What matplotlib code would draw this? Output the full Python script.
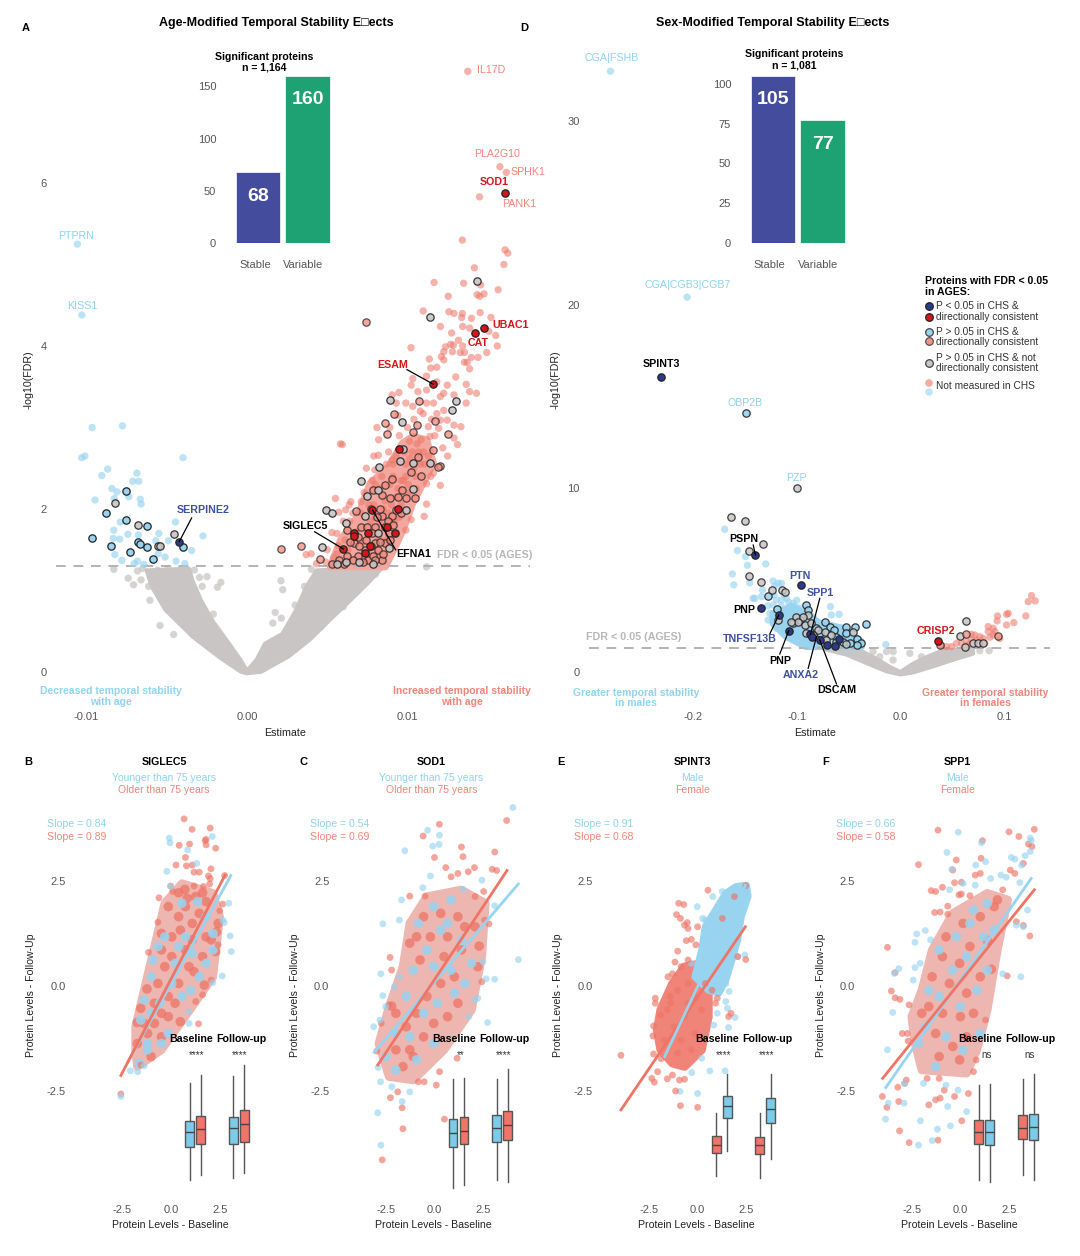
import numpy as np
import matplotlib
matplotlib.use("Agg")
from matplotlib import pyplot as plt
from matplotlib.path import Path

plt.rcParams['font.family'] = ['Liberation Sans', 'DejaVu Sans']

W, H = 1080, 1256
SALMON = '#EE7466'
BLUE = '#98D3F0'
GREY = '#C9C5C5'
NAVY = '#2E3A87'
RED = '#D7141C'
LABEL_BLUE = '#3F51A3'
TXT_BLUE = '#8FD3F0'
TXT_RED = '#F0857A'
TICK = '#555555'
BOX_BLUE = '#7CCBEA'
BOX_RED = '#F07468'

# ---- panel A, estimate in units of 0.001, -log10(FDR)
a_grey_band = [(-.39, .15), (-1.03, .33), (-2.1, .62), (-2.85, .88), (-3.39, 1.13), (-3.6, 1.27), (-6.28, 1.25),
               (-5.96, 1.05), (-5.1, .76), (-3.39, .43), (-1.67, .17), (-.39, 0), (0, -.02), (.9, 0), (2.62, .19),
               (3.9, .39), (5.19, .64), (6.47, .88), (7.55, 1.09), (8.51, 1.29), (4.33, 1.25), (3.69, 1.05),
               (3.04, .76), (2.19, .47), (1.11, .35), (.58, .15), (0, .02)]
a_grey = [(-8.3, 1.26), (-6.82, 1.24), (-6.5, 1.27), (-7.4, 1.15), (-7.07, 1.07), (-6.6, 1.13), (-6.13, 1.05),
          (-6.05, .88), (-5.42, .57), (-4.57, .46), (-2.1, .71), (-2.49, 1.17), (-2.96, 1.16), (-1.63, 1.1),
          (-1.84, 1.04), (-2.79, 1.05), (-3.28, 1.25), (-3.64, 1.05), (-5.57, 1.25), (-4.89, 1.27), (-4.24, 1.25),
          (-3.82, 1.27), (2.12, 1.12), (2.23, 1.01), (1.76, .73), (1.61, .6), (2.14, .66), (3, .82), (3.58, 1.05),
          (4.01, 1.26), (4.29, 1.15), (11.19, 1.29), (-3.4, .55), (-2.5, .42), (-1.2, .25), (-4.3, .85), (-5.0, 1.1),
          (2.9, .4), (4.6, .55), (6.0, .8), (7.2, 1.1), (8.0, 1.2), (3.5, .7)]
a_blue = [(-10.57, 5.25), (-10.29, 4.38), (-9.65, 3.0), (-7.76, 3.02), (-10.3, 2.63), (-10.1, 2.65), (-3.99, 2.63),
          (-8.68, 2.49), (-9.05, 2.41), (-6.86, 2.44), (-7.12, 2.34), (-6.75, 2.34), (-8.42, 2.25), (-8.1, 2.21),
          (-8.27, 2.13), (-7.37, 2.15), (-9.47, 2.11), (-6.65, 2.12), (-6.6, 2.06), (-7.89, 1.84), (-8.3, 1.74),
          (-4.46, 1.84), (-7.42, 1.69), (-6.77, 1.68), (-8.34, 1.64), (-7.93, 1.63), (-5.49, 1.7), (-4.89, 1.61),
          (-5.68, 1.61), (-2.74, 1.67), (-3.45, 1.49), (-8.23, 1.44), (-7.8, 1.37), (-5.53, 1.45), (-5.1, 1.41),
          (-4.42, 1.36), (-3.88, 1.33), (-6.82, 1.36), (-7.03, 1.33), (-6.43, 1.32)]
a_blue_edge = [(-7.52, 2.22), (-8.81, 1.95), (-7.52, 1.86), (-6.2, 1.79), (-9.65, 1.64), (-8.49, 1.54), (-6.77, 1.6),
               (-6.65, 1.57), (-6.26, 1.53), (-7.29, 1.47), (-5.83, 1.39), (-3.99, 1.53)]
a_red_core = [(5.19, 1.29), (5.83, 1.62), (6.9, 1.91), (7.65, 2.31), (8.83, 2.52), (9.69, 2.81), (10.33, 2.89),
              (11.19, 2.85), (11.62, 2.56), (10.33, 2.07), (9.8, 1.78), (9.26, 1.54), (8.62, 1.29)]
a_red = [(13.76, 7.37), (15.76, 6.2), (16.16, 6.13), (14.49, 5.83), (13.42, 5.3), (16.08, 5.18), (16.25, 5.14),
         (16.01, 5.0), (14.17, 4.96), (11.66, 4.78), (13.5, 4.77), (14.56, 4.75), (12.54, 4.61), (14.34, 4.63),
         (14.51, 4.61), (14.77, 4.64), (15.65, 4.69), (10.98, 4.43), (12.58, 4.42), (12.9, 4.4), (13.42, 4.4),
         (13.38, 4.35), (13.99, 4.34), (14.53, 4.41), (15.2, 4.35), (12.05, 4.24), (13.44, 4.24), (13.87, 4.22),
         (15.07, 4.18), (15.5, 4.13), (12.75, 4.16), (13.18, 4.07), (12.69, 4.02), (12.86, 4.01), (13.44, 4.0),
         (12.37, 3.99), (15.6, 4.0), (10.22, 3.98), (12.26, 3.93), (12.8, 3.93), (13.29, 3.92), (13.55, 3.92),
         (14.94, 3.92), (11.36, 3.84), (12.11, 3.87), (12.26, 3.83), (13.98, 3.86), (14.4, 3.86), (13.55, 3.8),
         (13.72, 3.8), (11.45, 3.73), (11.83, 3.74), (13.87, 3.72), (9.05, 3.4), (9.47, 3.43), (10.33, 3.6),
         (11.19, 3.63), (11.83, 3.56), (10.23, 3.52), (12.48, 3.52), (13.01, 3.62), (12.26, 3.42), (12.9, 3.4),
         (13.66, 3.53), (13.87, 3.44), (14.3, 3.42), (10.65, 3.44), (11.19, 3.46), (12.05, 3.38), (11.19, 3.3),
         (11.62, 3.3), (10.33, 3.26), (10.98, 3.17), (12.26, 3.21), (13.66, 3.3), (11.83, 3.17), (11.3, 3.01),
         (12.05, 3.09), (12.48, 3.09), (12.9, 3.03), (13.33, 3.01), (11.94, 2.99), (12.9, 2.87), (13.12, 2.79),
         (11.4, 2.89), (10.12, 2.83), (8.83, 2.7), (8.19, 2.66), (9.05, 2.6), (11.62, 2.44), (11.19, 2.31),
         (12.05, 2.29), (11.19, 2.06), (11.04, 1.91), (10.23, 1.87), (9.9, 1.74), (7.97, 2.48), (7.44, 2.5),
         (6.47, 2.09), (5.51, 2.13), (6.37, 2.05), (5.83, 2.8), (5.94, 2.79), (3.69, 1.44), (4.33, 1.33),
         (5.29, 1.71), (5.72, 1.96), (6.15, 1.99), (7.12, 2.09), (10.3, 2.7), (10.6, 2.8), (11.0, 2.7), (10.8, 2.55),
         (9.1, 2.4), (9.4, 2.25), (8.9, 2.3), (9.6, 2.35), (8.3, 2.25), (8.6, 2.1), (6.6, 1.7), (7.2, 1.6), (8.0, 1.9),
         (8.8, 1.95), (7.6, 1.45), (8.2, 1.65), (6.3, 1.5), (5.6, 1.45), (9.9, 2.4), (10.1, 2.2), (10.5, 2.4),
         (5.4, 1.4), (5.7, 1.55), (6.1, 1.62), (6.4, 1.85), (6.8, 1.72), (7.1, 1.95), (7.4, 1.45), (7.7, 1.85), (7.9, 2.05),
         (8.1, 1.45), (8.3, 1.82), (8.5, 2.0), (8.7, 1.62), (8.9, 1.85), (9.0, 2.05), (9.2, 1.85), (9.3, 2.15), (9.5, 1.9),
         (9.6, 2.05), (9.75, 2.35), (9.9, 2.55), (10.05, 2.3), (10.15, 2.62), (10.4, 2.5), (10.55, 2.25), (10.7, 2.7),
         (10.85, 2.85), (11.05, 2.55), (11.3, 2.65), (11.45, 2.4), (7.3, 2.2), (7.6, 2.05), (7.8, 2.35), (8.0, 2.3),
         (8.4, 2.4), (8.7, 2.55), (9.1, 2.55), (9.3, 2.65), (9.5, 2.9), (9.8, 2.7), (10.0, 3.0), (10.4, 3.1), (10.8, 3.2),
         (11.5, 3.1), (11.7, 2.9), (12.2, 2.75), (12.5, 2.65), (8.2, 2.85), (8.9, 3.0), (9.4, 3.15), (6.0, 1.85),
         (6.6, 1.95), (5.0, 1.5), (4.9, 1.35), (4.0, 1.45), (5.6, 1.7), (8.1, 3.0), (7.9, 2.65), (9.3, 3.3), (9.9, 3.3)]
a_red_edge = [(7.4, 4.29), (10.72, 3.33), (9.17, 3.17), (8.57, 3.05), (8.75, 2.92), (10.33, 2.94), (10.57, 3.03),
              (11.7, 3.08), (12.54, 2.92), (11.58, 2.73), (10.65, 2.64), (12.05, 2.53), (11.9, 2.52), (10.87, 2.41),
              (10.23, 2.46), (9.05, 2.37), (7.87, 2.23), (8.4, 2.17), (8.94, 2.13), (9.69, 2.23), (10.44, 2.13),
              (9.9, 2.13), (6.8, 1.98), (6.26, 1.74), (6.9, 1.66), (7.44, 1.62), (7.97, 1.58), (8.62, 1.58), (8.19, 1.5),
              (7.33, 1.5), (6.9, 1.42), (6.26, 1.42), (5.72, 1.37), (6.05, 1.33), (7.55, 1.37), (8.4, 1.37), (7.87, 1.42),
              (8.83, 1.7), (9.05, 1.91), (8.4, 1.91), (7.97, 1.78), (7.12, 1.78), (8.62, 1.78), (9.26, 1.99), (6.69, 1.58),
              (7.76, 1.7), (5.29, 1.33), (4.54, 1.39), (2.12, 1.51), (3.37, 1.54), (6.4, 1.6), (7.0, 1.55), (7.7, 1.55),
              (8.0, 1.38), (8.3, 1.6), (8.9, 1.62), (8.5, 1.45), (7.2, 1.35), (6.6, 1.38), (8.8, 1.85), (8.3, 2.0), (7.7, 2.0),
              (9.1, 1.8), (9.6, 1.95), (9.4, 2.15), (8.6, 2.3), (8.1, 1.9), (7.5, 1.78)]
a_grey_edge = [(-8.23, 2.07), (-6.82, 1.8), (-4.52, 1.69), (-5.53, 1.55), (-5.42, 1.55), (14.34, 4.8), (11.38, 4.36),
               (8.94, 3.34), (9.69, 3.07), (13.01, 3.33), (12.75, 3.22), (9.73, 2.74), (9.54, 2.59), (8.23, 2.51),
               (10.33, 2.56), (11.4, 2.56), (7.12, 2.34), (8.19, 2.23), (7.48, 2.16), (10.33, 2.25), (4.93, 1.99),
               (5.32, 1.95), (6.15, 1.83), (4.69, 1.53), (6.15, 1.35), (5.62, 1.33), (7.87, 1.33), (7.01, 1.35),
               (8.19, 1.7), (9.9, 1.99), (8.83, 1.52), (7.33, 1.91)]
a_navy = [(-4.22, 1.6)]
a_sig_red = [(16.06, 5.88), (14.79, 4.22), (14.19, 4.16), (11.62, 3.53), (9.47, 2.74), (7.82, 1.99), (9.41, 2.0),
             (6.69, 1.7), (6.67, 1.67), (7.55, 1.7), (8.7, 1.78), (9.22, 1.7), (7.65, 1.55), (7.33, 1.46), (6.0, 1.51)]

# ---- panel D, estimate in units of 0.001, -log10(FDR)
d_grey_band = [(-74.6, 1.29), (-55.3, 1.29), (-39.2, 1.2), (-23.2, .74), (-10.3, .29), (0, .02), (12.2, .47),
               (25.1, .83), (41.2, 1.2), (70.1, 1.29), (70.1, .98), (50.8, .65), (31.5, .29), (12.2, -.04), (0, -.15),
               (-13.5, .02), (-32.8, .47), (-52.1, .93), (-71.4, 1.2)]
d_grey = [(-7.1, .65), (-13.5, 1.11), (-7.1, 1.11), (9, 1.02), (-19.9, .83), (-26.4, 1.11), (20.3, .83), (76.5, 1.16),
          (85.5, 1.16)]
d_blue_core = [(-122.8, 3.19), (-103.5, 3.56), (-77.8, 2.65), (-55.3, 2.38), (-37.6, 1.65), (-37.6, 1.38),
               (-90.7, 1.38), (-110, 1.92), (-122.8, 2.65)]
d_blue = [(-279.6, 32.7), (-205.7, 20.4), (-169.5, 7.77), (-157.2, 6.61), (-149.5, 6.28), (-147.6, 5.81), (-129.9, 5.88),
          (-162.1, 5.34), (-145.3, 4.86), (-160.8, 4.74), (-122.8, 4.95), (-118, 4.83), (-114.8, 4.83), (-121.2, 4.68),
          (-133.1, 4.46), (-142.1, 4.01), (-140.5, 4.01), (-134.1, 4.1), (-119.6, 3.92), (-114.8, 3.92), (-110, 4.01),
          (-122.8, 3.65), (-106.8, 3.56), (-103.5, 3.74), (-97.1, 3.19), (-105.1, 3.19), (-127.7, 2.83), (-67.5, 3.56),
          (-59.2, 3.14), (-66.6, 3.1), (-101.9, 2.83), (-14.1, 1.49), (-122.8, 2.65), (-119.6, 2.38), (-114.8, 2.2),
          (-103.5, 2.2), (-97.1, 1.74), (-90.7, 1.47), (-84.2, 1.56), (-118, 3.0), (-112, 3.3), (-108, 2.9), (-100, 3.3),
          (-95, 2.6), (-88, 2.9), (-84, 3.0), (-80, 2.5), (-76, 2.2), (-72, 2.5), (-68, 2.0), (-64, 1.8), (-60, 2.2),
          (-56, 1.9), (-50, 1.8), (-46, 1.5), (-112, 2.5), (-106, 2.4), (-100, 2.1), (-94, 2.0), (-88, 1.7), (-82, 1.9),
          (-76, 1.6), (-70, 1.9), (-115, 3.6), (-108, 3.8), (-98, 3.5), (-92, 3.0), (-85, 2.4), (-110, 2.0), (-104, 1.8),
          (-126, 3.2), (-128, 3.6), (-122, 4.2), (-112, 4.2), (-100, 3.9)]
d_blue_edge = [(-149, 14.1), (-32.8, 2.6), (-44.1, 2.47), (-42.4, 1.78), (-37.6, 1.6), (-52.1, 2.47), (-52.1, 2.1),
               (-119, 3.41), (-127.7, 4.14), (-90.7, 3.65), (-89, 3.38), (-73, 2.74), (-68.2, 2.47), (-64.3, 2.29),
               (-61.7, 1.92), (-97.1, 2.83), (-103.5, 2.65), (-77.8, 2.1), (-81, 2.38), (-55.3, 1.65), (-42.4, 1.47),
               (-48.9, 1.56)]
d_grey_edge = [(-99.8, 10.0), (-163.7, 8.42), (-150.2, 8.22), (-132.5, 6.99), (-146.3, 6.61), (-145.7, 5.25),
               (-134.7, 4.92), (-123.5, 4.45), (-113.8, 4.45), (-111.6, 4.37), (-118, 2.83), (-89, 3.1), (-100.3, 3.01),
               (-93.9, 3.01), (-98.7, 2.74), (-105.1, 2.74), (-92.3, 2.56), (-85.9, 2.65), (-79.4, 2.29), (-73, 2.2),
               (-66.6, 2.01), (-71.4, 1.74), (-61.7, 1.65), (-52.1, 1.52), (-45.7, 2.2), (-84.2, 2.01), (-90.7, 2.1),
               (63, 2.76), (57.2, 1.98), (62.4, 1.38), (70.1, 1.6), (74.9, 1.6), (79.7, 1.6)]
d_red = [(126.4, 4.16), (129.9, 3.87), (123.2, 3.83), (120.9, 3.05), (103.9, 3.19), (102.3, 3.14), (93.6, 3.05),
         (93.2, 2.78), (109.3, 2.69), (102.3, 2.56), (84.6, 2.47), (89.4, 2.38), (84.6, 2.2), (91, 2.2), (89.4, 2.01),
         (95.8, 1.83), (68.5, 2.05), (71.7, 2.01), (76.5, 1.92), (79.7, 1.83), (73.3, 1.74), (68.5, 1.74), (63.7, 1.65),
         (65.3, 1.47), (54, 1.56), (58.8, 1.56), (49.2, 1.38), (44.4, 1.38), (81.4, 1.56), (86.2, 1.89), (39.5, 1.47)]
d_red_edge = [(63, 2.09), (93.9, 1.96), (37.9, 1.47)]
d_navy = [(-231, 16.06), (-139.9, 6.37), (-95.8, 4.74), (-134.7, 3.48), (-117.4, 3.1), (-107.7, 2.25), (-86.8, 2.05),
          (-85.2, 1.92), (-77.8, 1.74), (-70.4, 1.47), (-63.3, 1.43), (-59.2, 1.78)]
d_sig_red = [(36.3, 1.69)]

# ---- counts
bar_groups = ['Stable', 'Variable']
a_counts = [68, 160]
d_counts = [105, 77]

# ---- panel B
b_core = [(-1.73, -1.92), (-.49, -1.52), (1.09, -.49), (2.15, .22), (2.5, 1.65), (2.15, 2.21), (.56, 2.44),
          (-.32, 1.97), (-.85, .94), (-1.38, -.1), (-1.82, -.97), (-1.82, -1.52)]
b_red = [(.67, 3.98), (1.08, 3.73), (2.01, 3.76), (1.8, 3.49), (1.75, 3.46), (1.8, 3.36), (.42, 3.35), (.95, 3.38),
         (2.29, 3.28), (.74, 3.06), (.26, 2.88), (.79, 2.86), (1.09, 2.88), (2.05, 2.79), (1.18, 2.71), (1.45, 2.71),
         (1.92, 2.62), (2.01, 2.56), (2.75, 2.63), (-.02, 2.38), (.71, 2.3), (1.18, 2.38), (1.66, 2.37), (1.98, 2.43),
         (1.62, 2.22), (.09, 2.25), (.39, 2.22), (-.62, 2.1), (-.14, 1.89), (.83, 2.09), (1.27, 2.13), (1.8, 2.01),
         (2.65, 1.95), (2.5, 1.79), (-.67, 1.52), (-.49, 1.25), (-1.15, .8), (2.42, 1.49), (2.33, 1.29), (2.06, 1.1),
         (2.42, .98), (2.29, .82), (2.06, .14), (1.71, .02), (1.62, -.21), (1.27, -.37), (1.41, -.9), (.48, -.85),
         (-1.23, -.07), (-1.55, -.53), (-1.73, -.87), (-1.73, -1.37), (-1.55, -1.88), (-1.02, -1.68), (-2.57, -2.57),
         (.74, 1.89), (.39, 1.65), (1.09, 1.49), (1.45, 1.73), (1.09, 1.1), (.74, .86), (.04, .7), (-.32, .46),
         (1.18, .34), (.39, .06), (-.14, -.25), (-.49, -.65), (-.85, -.89), (-.14, -.73), (-1.2, -1.13), (.21, -.41),
         (.92, .46), (1.62, .7), (1.8, 1.17), (-.49, .86), (.04, 1.17), (.48, 1.33), (-.85, -.41), (-1.38, -.89),
         (-.49, -1.21), (-.67, .06)]
b_blue = [(-.09, 3.52), (-.05, 3.41), (.85, 3.24), (2.12, 3.56), (1.32, 2.92), (-.21, 2.73), (-.02, 2.37), (2.96, 1.97),
          (2.65, 1.57), (2.73, 1.51), (3.03, 1.19), (3.09, .82), (2.63, .24), (2.15, .08), (.92, -.89), (.92, -.61),
          (-2.57, -2.63), (-2.08, -2.02), (-1.71, -2.04), (-1.38, -1.9), (-1.64, -1.84), (.56, 1.97), (1.36, 2.01),
          (1.8, 1.65), (2.15, 1.25), (2.15, .86), (1.8, .54), (1.45, .22), (1.0, -.1), (.21, .54), (-.32, 1.17),
          (-.67, .94), (-.93, .62), (-1.02, .22), (-1.38, -.33), (-1.55, -.81), (-1.02, -.65), (-.14, -1.13),
          (-.49, -1.37), (-1.2, -1.52), (.74, 1.17), (1.09, .78), (.39, .94), (.04, .06), (.56, -.25), (-.58, -.41),
          (-1.2, -1.37)]
b_red_line = [(-2.57, -2.13), (2.77, 2.64)]
b_blue_line = [(-2.2, -1.8), (3.07, 2.63)]

# ---- panel C
c_core = [(-2.33, -2.16), (-1.09, -2.24), (.49, -1.52), (1.9, -.57), (2.43, .7), (2.61, 1.97), (1.38, 2.29),
          (-.39, 2.13), (-1.27, 1.49), (-1.62, .46), (-2.33, -.49), (-2.86, -1.37)]
c_red = [(.25, 3.85), (-.58, 3.57), (3.7, 3.94), (1.38, 3.31), (3.09, 3.19), (1.46, 3.08), (0, 3.06), (.58, 2.82),
         (2.05, 2.82), (2.96, 2.78), (3.19, 2.75), (1.2, 2.68), (1.73, 2.72), (.85, 2.6), (-1.27, 2.14), (-.48, 2.14),
         (-2.28, .68), (-2.2, .38), (-2.33, -.45), (-2.2, -.48), (-2.73, -.89), (-2.95, -1.55), (-2.26, -2.66),
         (-1.89, -2.52), (-1.66, -2.9), (-1.62, -3.4), (-2.68, -4.14), (.51, -3.17), (1.16, -1.72), (.26, -2.04),
         (.09, -2.36), (-.53, -2.28), (-.83, -2.28), (2.43, .1), (2.22, .46), (2.79, 1.48), (2.57, 1.57), (2.29, .95),
         (2.08, 2.13), (2.52, 2.25), (1.2, 1.65), (.32, 1.73), (-.56, 1.65), (-.92, 1.17), (-.21, 1.17), (.67, 1.17),
         (1.55, 1.41), (2.08, 1.41), (1.38, .86), (.49, .7), (-.74, .62), (-1.27, 1.02), (1.02, .22), (.32, .06),
         (-.39, -.25), (-.92, -.65), (-1.45, -.97), (-1.98, -.65), (-.56, -1.21), (-1.27, -1.52), (-.04, -.89),
         (1.2, -.41), (.67, -.73), (-1.62, -1.92), (-1.09, -1.68), (-1.98, -1.52)]
c_blue = [(4.02, 4.25), (-.35, 3.71), (-1.52, 3.22), (.25, 3.59), (-.09, 3.33), (.23, 3.37), (-.21, 2.62), (-1.69, 2.05),
          (-2.65, 1.48), (-1.8, 1.57), (-.6, 2.34), (-2.75, .29), (-2.65, -.23), (-2.06, -.02), (-2.5, -.49),
          (-3.12, -.97), (-2.8, -.81), (-2.89, -1.94), (-2.77, -2.28), (-2.91, -3.02), (-2.75, -3.79), (-1.66, -2.75),
          (-1.27, -2.52), (-2.19, -2.4), (4.3, .63), (3.09, .16), (2.65, .17), (2.72, -.87), (2.43, 2.52), (3.09, 1.91),
          (2.49, .58), (2.08, -.33), (2.22, -.29), (1.76, -.73), (1.46, 2.3), (.85, 2.05), (-.04, 1.89), (-.83, 1.49),
          (-.39, .86), (-1.09, .38), (-1.8, .22), (.32, 1.33), (1.38, 1.09), (1.9, .54), (.85, .38), (-.04, .46),
          (-1.45, -.25), (-.56, -.65), (.14, -.41), (1.02, -.17), (-1.27, -1.21), (-1.98, -1.13), (-.92, -1.76),
          (-1.98, -2), (-2.5, -1.68), (-.04, -1.37), (1.55, .06), (.67, 1.49)]
c_red_line = [(-2.91, -1.88), (3.72, 2.75)]
c_blue_line = [(-3.09, -1.58), (4.3, 2.43)]

# ---- panel E
e_red_core = [(-1.9, -.57), (-1.29, .06), (-.67, .46), (.21, .54), (.56, -.1), (.56, -.73), (.21, -1.52), (-.67, -1.92),
              (-1.29, -1.84), (-1.9, -1.52), (-2.08, -1.05)]
e_blue_core = [(-.14, .22), (.21, .86), (.39, 1.41), (.92, 1.81), (1.45, 2.21), (1.98, 2.37), (2.5, 2.4), (2.59, 2.13),
               (2.24, 1.65), (2.06, 1.1), (1.71, .54), (1.45, .14), (1.09, -.17), (.56, -.1)]
e_red = [(-3.93, -1.65), (2.47, 2.39), (.53, 2.28), (-.97, 1.97), (-.71, 1.94), (-1.08, 1.7), (-.88, 1.61), (-.53, 1.51),
         (-.67, 1.45), (-.49, 1.37), (0, 1.41), (-1.02, .83), (-.58, 1.08), (-.32, 1.11), (-.09, .98), (-1.16, .57),
         (-.49, .62), (-1.29, .29), (-1.52, .22), (-.85, .46), (-2.17, -.29), (-2.17, -.41), (-1.41, -.25), (-1.9, -.69),
         (-2.26, -.95), (-2.29, -1.19), (-2.26, -1.62), (-1.87, -1.73), (-2.05, -2.04), (-2.35, -2.2), (-2.22, -2.29),
         (-1.55, -2.21), (-.93, -2.24), (-.67, -2.22), (-1.13, -2.5), (-.88, -2.85), (0, -2.89), (-1.29, -2.12),
         (1.71, -.65), (1.59, -.73), (2.06, .7), (2.47, .63), (1.89, 2.13), (1.27, 1.61), (1.01, -.29), (.74, -.1),
         (.92, -.41), (-1.55, -.57), (-1.02, -.1), (-.49, .06), (-.14, -.25), (.21, -.57), (-.67, -.73), (-1.2, -.97),
         (-1.73, -1.29), (-.85, -1.29), (-.14, -1.13), (-.32, -1.52), (-1.02, -1.6), (.39, .06), (-1.38, -.41),
         (-.49, -.41)]
e_blue = [(-.02, 1.89), (.78, 2.13), (1.27, 2.25), (1.66, 2.21), (.39, 1.57), (.56, 1.53), (.26, 1.61), (2.42, .74),
          (2.06, .7), (1.45, .06), (1.62, -.13), (1.45, -.37), (1.01, -.65), (1.53, -.53), (1.92, -.75), (.83, -.93),
          (1.59, -.99), (.21, -1.72), (.63, -2.02), (1.41, -2.02), (-.3, -2.06), (-.9, -2.51), (0, -2.56), (1.27, .54),
          (1.53, .78), (.74, .22), (.21, .54), (-.32, .54), (1.09, .06), (.83, 1.02), (1.09, 1.33), (1.53, 1.65),
          (1.98, 1.97), (2.33, 2.21), (1.53, 1.17), (1.09, .7), (.74, .54), (1.8, 1.81), (2.15, 2.09)]
e_red_line = [(-3.93, -2.95), (2.45, 1.41)]
e_blue_line = [(-1.69, -1.68), (2.45, 2.4)]

# ---- panel F
f_core = [(-1.98, -2), (.32, -2.08), (.85, -1.52), (1.38, -.57), (1.9, .86), (2.43, 2.05), (1.38, 2.21),
          (-.39, 1.73), (-1.45, .86), (-1.98, -.1), (-2.5, -.73), (-2.33, -1.37)]
f_red = [(-1.15, 3.71), (2.49, 3.67), (3, 3.56), (3.79, 3.73), (1.13, 3.46), (3.49, 3.38), (3.67, 3.32), (-.21, 3),
         (1.06, 3.04), (-2.15, 2.89), (-.39, 2.76), (.76, 2.64), (1.02, 2.68), (2.56, 2.76), (2.79, 2.68), (3.23, 2.92),
         (-.3, 2.46), (.05, 2.47), (-.92, 2.35), (-1.5, 2.27), (-1.27, 2.25), (-.07, 2.17), (.05, 2.19), (-.65, 1.9),
         (.49, 2.15), (-1.32, 1.75), (-1.04, 1.76), (-.65, 1.71), (3.23, 1.44), (3.56, 1.19), (2.87, 1.53), (-3.74, .92),
         (-3.35, .32), (-3.54, -.12), (-3.35, -.28), (-3.1, -.32), (-2.63, -.45), (-2.98, -1.13), (-2.72, -1.13),
         (-2.68, -1.31), (2.4, .24), (1.59, .4), (1.29, -.81), (-2.77, -2.24), (-2.86, -2.32), (-3.21, -2.41), (-4, -2.63),
         (-3.77, -2.89), (-3.16, -2.75), (-3.12, -3.45), (-2.63, -3.73), (-1.15, -3.67), (-1.62, -2.83), (-1.27, -2.71),
         (-1.04, -2.67), (-.3, -2.63), (.41, -2.56), (.07, -3.21), (-.83, -2.48), (-1.09, -2.2), (-1.71, -2.2),
         (.67, -2.04), (.81, -1.76), (1.73, 1.89), (1.02, 1.65), (.14, 1.49), (-.74, 1.17), (.49, .94), (1.38, 1.09),
         (-.04, .54), (-.92, .7), (-1.45, .22), (-.56, .06), (1.02, .22), (.32, -.17), (-1.62, -.49), (-1.98, -.65),
         (-.92, -.65), (0, -.73), (.67, -.65), (-1.27, -1.13), (-.39, -1.44), (.32, -1.21), (-1.09, -1.68), (-.04, -1.76),
         (1.9, 2.05), (2.17, 2.29)]
f_blue = [(-.11, 3.66), (3.58, 3.52), (3.63, 3.46), (1.08, 3.41), (-.69, 3.18), (2.61, 3.06), (2.79, 3.02), (3.32, 3.1),
          (3.58, 3.2), (3.14, 2.88), (.79, 2.88), (1.29, 2.96), (-.44, 2.78), (2.08, 2.64), (2.35, 2.59), (3.05, 2.46),
          (1.55, 2.56), (-.56, 2.29), (.14, 2.44), (.76, 2.4), (3.44, 1.81), (2.87, 1.45), (3.23, 1.41), (-2.24, 1.24),
          (-2.33, 1.04), (-1.8, 1.32), (-1.53, 1.1), (-3.16, .41), (-3.39, .3), (-2.33, .44), (-2.06, .54), (3.1, .22),
          (2.17, .29), (-3.47, -.63), (-3.74, -1.52), (-2.42, .14), (-3.84, -3.17), (-3.7, -2.79), (-2.89, -2.79),
          (-2.15, -3.79), (-1.45, -3.68), (-2.05, -3.21), (-1.18, -3.41), (-.51, -3.33), (-.65, -2.87), (.32, -2.99),
          (-.12, -2.48), (-.74, -2.36), (-1.89, -2.32), (-2.86, -2.32), (1.38, 1.97), (.67, 1.81), (-.21, 1.17), (-1.09, .86),
          (1.19, 1.17), (1.73, 1.33), (.32, .7), (-.39, .38), (-1.62, -.1), (-1.09, -.25), (.85, -.1), (0, -.49),
          (-1.8, -.97), (-2.15, -1.37), (-.74, -1.21), (.14, -1.52), (-1.27, -1.92), (1.02, -1.13), (1.38, .38), (.49, 1.49)]
f_red_line = [(-3.99, -2.2), (3.79, 2.29)]
f_blue_line = [(-3.83, -2.42), (3.63, 2.56)]

# ---- inset boxplots: low whisker, q1, median, q3, high whisker
b_boxes = [(-2.55, -.96, -.27, .27, 2.05), (-2.28, -.85, -.14, .49, 2.44), (-2.41, -.85, -.08, .47, 2.39), (-2.19, -.71, .11, .77, 2.9)]
c_boxes = [(-2.91, -.98, -.31, .35, 2.24), (-2.76, -.85, -.22, .43, 2.28), (-2.52, -.71, -.05, .52, 2.24), (-2.63, -.63, .05, .72, 2.71)]
e_boxes = [(-2.36, -1.24, -.87, -.47, .66), (-1.18, .38, .96, 1.42, 2.49), (-2.43, -1.29, -.88, -.49, .66), (-1.54, .16, .82, 1.34, 2.49)]
f_boxes = [(-2.52, -.83, -.25, .3, 1.97), (-2.6, -.87, -.28, .3, 2.02), (-2.3, -.6, -.06, .55, 2.25), (-2.55, -.66, -.03, .61, 2.49)]


def px_axes(left, top, right, bottom):
    ax = fig.add_axes([left / W, 1 - bottom / H, (right - left) / W, (bottom - top) / H])
    ax.patch.set_alpha(0)
    for s in ax.spines.values():
        s.set_visible(False)
    ax.tick_params(length=0, labelcolor=TICK, labelsize=8)
    return ax


def xy(points):
    return np.array(points)[:, 0], np.array(points)[:, 1]


def dots(ax, points, color, size=28, alpha=.6, edge='none', z=2):
    if len(points) == 0:
        return
    x, y = xy(points)
    ax.scatter(x, y, s=size, c=color, alpha=alpha, edgecolors=edge, linewidths=.9, zorder=z)


def inside(points, core):
    return [p for p in points if Path(core).contains_point(p)]


def outside(points, core):
    return [p for p in points if not Path(core).contains_point(p)]


def note(ax, x, y, s, color='black', bold=True, ha='center', size=7.7):
    ax.text(x, y, s, color=color, fontweight='bold' if bold else 'normal', ha=ha, va='center', fontsize=size, zorder=8)


def link(ax, x0, y0, x1, y1):
    ax.plot([x0, x1], [y0, y1], color='black', lw=.9, zorder=7)


def count_bars(left, counts, scale, title_x, title_y, ticks, label_x, total):
    ax = px_axes(left, 70, left + 105, 243)
    ax.bar([0, 1], counts, width=.9, color=['#444C9E', '#1EA274'], edgecolor='white', linewidth=.5)
    ax.set_xlim(-.563, 1.548)
    ax.set_ylim(0, 173 / scale)
    ax.set_yticks(ticks)
    ax.set_xticks(label_x)
    ax.set_xticklabels(bar_groups)
    ax.tick_params(axis='y', pad=10)
    ax.tick_params(axis='x', pad=12)
    for i, n in enumerate(counts):
        ax.text(i, n - 24 / scale, str(n), color='white', fontweight='bold', fontsize=14, ha='center', va='center')
    page.text(title_x, title_y, 'Significant proteins', fontweight='bold', fontsize=7.6, ha='center', va='center')
    page.text(title_x, title_y + 11, 'n = ' + format(total, ','), fontweight='bold', fontsize=7.6, ha='center', va='center')


def slope_panel(x0, red, blue, red_line, blue_line, boxes, box_colors, name, sub, slopes, marks, title_dx,
                core=None, red_core=None, blue_core=None):
    ax = px_axes(x0 - 101, 800, x0 + 99, 1198)
    ax.set_xlim(-101 / 19.5, 99 / 19.5)
    ax.set_ylim(-212 / 42, 186 / 42)
    ax.set_xticks([-2.5, 0, 2.5])
    ax.set_yticks([-2.5, 0, 2.5])
    ax.set_xticklabels(['-2.5', '0.0', '2.5'])
    ax.set_yticklabels(['-2.5', '0.0', '2.5'])
    ax.tick_params(axis='x', pad=5)
    ax.tick_params(axis='y', pad=3)
    if core is not None:
        # dense middle of the cloud, the single points cannot all be read
        ax.fill(*xy(core), facecolor='#EDB6B0', edgecolor='#EDB6B0', lw=6, joinstyle='round', zorder=1)
        dots(ax, inside(red, core), SALMON, size=48, alpha=.75, z=1.3)
        dots(ax, inside(blue, core), BLUE, size=48, alpha=.85, z=1.5)
        dots(ax, outside(red, core), SALMON, size=24, alpha=.65, z=2)
        dots(ax, outside(blue, core), BLUE, size=24, alpha=.65, z=3)
        ax.plot(*xy(blue_line), color=BLUE, lw=2, zorder=4)
        ax.plot(*xy(red_line), color=SALMON, lw=2, zorder=5)
    else:
        ax.fill(*xy(red_core), facecolor='#F08478', edgecolor='#F08478', lw=6, joinstyle='round', zorder=1)
        ax.fill(*xy(blue_core), facecolor=BLUE, edgecolor=BLUE, lw=5, joinstyle='round', zorder=1.1)
        dots(ax, blue, BLUE, size=24, alpha=.65, z=2)
        dots(ax, red, SALMON, size=24, alpha=.65, z=3)
        ax.plot(*xy(red_line), color=SALMON, lw=2, zorder=4)
        ax.plot(*xy(blue_line), color=BLUE, lw=2, zorder=5)

    inset = px_axes(x0 + 24 - 26.2, 1063, x0 + 24 + 69.9, 1190)
    inset.set_xlim(.4, 2.6)
    inset.set_ylim(-3, 3)
    inset.set_xticks([])
    inset.set_yticks([])
    stats = [dict(whislo=b[0], q1=b[1], med=b[2], q3=b[3], whishi=b[4], fliers=[]) for b in boxes]
    art = inset.bxp(stats, positions=[.874, 1.126, 1.874, 2.126], widths=.205, patch_artist=True, showfliers=False,
                    showcaps=False, manage_ticks=False, boxprops=dict(edgecolor='#555555', linewidth=1),
                    whiskerprops=dict(color='#555555', linewidth=1), medianprops=dict(color='#444444', linewidth=1))
    for box, c in zip(art['boxes'], box_colors):
        box.set_facecolor(c)

    page.text(x0 + title_dx, 762, name, fontweight='bold', fontsize=7.7, ha='center', va='center')
    page.text(x0 + title_dx, 778, sub[0], color=TXT_BLUE, fontsize=7.5, ha='center', va='center')
    page.text(x0 + title_dx, 790, sub[1], color=TXT_RED, fontsize=7.5, ha='center', va='center')
    page.text(x0 - 124, 824, 'Slope = ' + slopes[0], color=TXT_BLUE, fontsize=7.6, va='center')
    page.text(x0 - 124, 837, 'Slope = ' + slopes[1], color=TXT_RED, fontsize=7.6, va='center')
    page.text(x0 - 139.5, 995, 'Protein Levels - Follow-Up', color='#222222', fontsize=7.6, rotation=90, ha='center', va='center')
    page.text(x0 - 1, 1225, 'Protein Levels - Baseline', color='#222222', fontsize=7.6, ha='center', va='center')
    page.text(x0 + 20, 1039, 'Baseline', fontweight='bold', fontsize=7.7, ha='center', va='center')
    page.text(x0 + 70, 1039, 'Follow-up', fontweight='bold', fontsize=7.7, ha='center', va='center')
    for dx, m in zip([26, 69], marks):
        page.text(x0 + dx, 1055, m, color='#333333', fontsize=7, ha='center', va='center')


fig = plt.figure(figsize=(W / 100, H / 100), dpi=100)
page = fig.add_axes([0, 0, 1, 1], zorder=20)
page.set_xlim(0, W)
page.set_ylim(H, 0)
page.axis('off')

# panel A
ax_a = px_axes(52, 40, 532, 708)
ax_a.set_xlim(-12.15, 17.76)
ax_a.set_ylim(-.442, 7.755)
ax_a.set_xticks([-10, 0, 10])
ax_a.set_xticklabels(['-0.01', '0.00', '0.01'])
ax_a.set_yticks([0, 2, 4, 6])
ax_a.tick_params(axis='x', pad=3)
ax_a.tick_params(axis='y', pad=4)
ax_a.fill(*xy(a_grey_band), facecolor=GREY, edgecolor=GREY, lw=2.5, joinstyle='round', zorder=1)
dots(ax_a, a_grey, GREY, alpha=.75, z=1)
ax_a.fill(*xy(a_red_core), facecolor='#F4A79E', edgecolor='#F4A79E', lw=5, joinstyle='round', zorder=1.5)
dots(ax_a, a_blue, BLUE, alpha=.65)
dots(ax_a, a_red, SALMON, alpha=.55)
dots(ax_a, a_blue_edge, BLUE, alpha=1, edge='#222222', z=3)
dots(ax_a, a_red_edge, '#F08A7E', alpha=.75, edge='#222222', z=3)
dots(ax_a, a_grey_edge, GREY, alpha=.9, edge='#222222', z=3)
dots(ax_a, a_navy, NAVY, alpha=1, edge='#222222', z=4)
dots(ax_a, a_sig_red, RED, alpha=1, edge='#222222', z=4)
ax_a.plot([-11.9, 17.63], [1.3, 1.3], color='#B5B2B2', lw=1.4, ls=(0, (5, 4)), zorder=1.8)
note(ax_a, -10.65, 5.35, 'PTPRN', TXT_BLUE, False)
note(ax_a, -10.27, 4.49, 'KISS1', TXT_BLUE, False)
note(ax_a, 14.33, 7.39, 'IL17D', TXT_RED, False, ha='left')
note(ax_a, 15.58, 6.36, 'PLA2G10', TXT_RED, False)
note(ax_a, 16.39, 6.13, 'SPHK1', TXT_RED, False, ha='left')
note(ax_a, 16.95, 5.74, 'PANK1', TXT_RED, False)
note(ax_a, 15.39, 6.01, 'SOD1', RED)
note(ax_a, 15.26, 4.26, 'UBAC1', RED, ha='left')
note(ax_a, 14.39, 4.04, 'CAT', RED)
note(ax_a, 9.1, 3.77, 'ESAM', RED)
note(ax_a, -2.74, 1.99, 'SERPINE2', LABEL_BLUE)
note(ax_a, 3.61, 1.79, 'SIGLEC5')
note(ax_a, 10.4, 1.45, 'EFNA1')
note(ax_a, 14.83, 1.44, 'FDR < 0.05 (AGES)', '#B9B6B6')
note(ax_a, -8.47, -.23, 'Decreased temporal stability', TXT_BLUE, size=7.5)
note(ax_a, -8.47, -.37, 'with age', TXT_BLUE, size=7.5)
note(ax_a, 13.4, -.23, 'Increased temporal stability', TXT_RED, size=7.5)
note(ax_a, 13.4, -.37, 'with age', TXT_RED, size=7.5)
link(ax_a, 9.97, 3.71, 11.62, 3.53)
link(ax_a, -3.45, 1.89, -4.22, 1.6)
link(ax_a, 4.22, 1.72, 6.0, 1.51)
link(ax_a, 7.82, 1.99, 9.26, 1.5)

# panel D
ax_d = px_axes(585, 40, 1055, 708)
ax_d.set_xlim(-304.2, 149)
ax_d.set_ylim(-1.96, 34.4)
ax_d.set_xticks([-200, -100, 0, 100])
ax_d.set_xticklabels(['-0.2', '-0.1', '0.0', '0.1'])
ax_d.set_yticks([0, 10, 20, 30])
ax_d.tick_params(axis='x', pad=3)
ax_d.tick_params(axis='y', pad=4)
ax_d.fill(*xy(d_grey_band), facecolor=GREY, edgecolor=GREY, lw=2.5, joinstyle='round', zorder=1)
dots(ax_d, d_grey, GREY, alpha=.75, z=1)
ax_d.fill(*xy(d_blue_core), facecolor=BLUE, edgecolor=BLUE, lw=5, joinstyle='round', zorder=1.5)
dots(ax_d, d_blue, BLUE, alpha=.65)
dots(ax_d, d_red, SALMON, alpha=.55)
dots(ax_d, d_blue_edge, BLUE, alpha=.9, edge='#222222', z=3)
dots(ax_d, d_grey_edge, GREY, alpha=.85, edge='#222222', z=3)
dots(ax_d, d_red_edge, '#F08A7E', alpha=.75, edge='#222222', z=3)
dots(ax_d, d_navy, NAVY, alpha=1, edge='#222222', z=4)
dots(ax_d, d_sig_red, RED, alpha=1, edge='#222222', z=4)
ax_d.plot([-300, 144], [1.3, 1.3], color='#B5B2B2', lw=1.4, ls=(0, (5, 4)), zorder=1.8)
note(ax_d, -279, 33.4, 'CGA|FSHB', TXT_BLUE, False)
note(ax_d, -205, 21.07, 'CGA|CGB3|CGB7', TXT_BLUE, False)
note(ax_d, -150, 14.64, 'OBP2B', TXT_BLUE, False)
note(ax_d, -100.8, 10.56, 'PZP', TXT_BLUE, False)
note(ax_d, -231, 16.77, 'SPINT3')
note(ax_d, -151, 7.26, 'PSPN')
note(ax_d, -96.5, 5.23, 'PTN', LABEL_BLUE)
note(ax_d, -76.8, 4.28, 'SPP1', LABEL_BLUE)
note(ax_d, -150.8, 3.38, 'PNP')
note(ax_d, -145.7, 1.78, 'TNFSF13B', LABEL_BLUE)
note(ax_d, -116, .58, 'PNP')
note(ax_d, -95.8, -.15, 'ANXA2', LABEL_BLUE)
note(ax_d, -61.7, -.98, 'DSCAM')
note(ax_d, 34, 2.25, 'CRISP2', RED)
note(ax_d, -257.6, 1.89, 'FDR < 0.05 (AGES)', '#B9B6B6')
note(ax_d, -254.7, -1.13, 'Greater temporal stability', TXT_BLUE, size=7.5)
note(ax_d, -254.7, -1.69, 'in males', TXT_BLUE, size=7.5)
note(ax_d, 81.7, -1.13, 'Greater temporal stability', TXT_RED, size=7.5)
note(ax_d, 81.7, -1.69, 'in females', TXT_RED, size=7.5)
link(ax_d, -142, 6.91, -139.9, 6.37)
link(ax_d, -77.8, 4.01, -86.8, 2.05)
link(ax_d, -126, 2.07, -117.4, 3.1)
link(ax_d, -116.4, .98, -107.7, 2.25)
link(ax_d, -89, .2, -81, 1.92)
link(ax_d, -61.7, -.65, -77.8, 1.74)

count_bars(230, a_counts, 1.044, 264, 57, [0, 50, 100, 150], [-.06, .91], 1164)
count_bars(745, d_counts, 1.593, 794, 54, [0, 25, 50, 75, 100], [-.07, .91], 1081)

# lower panels
slope_panel(171, b_red, b_blue, b_red_line, b_blue_line, b_boxes, [BOX_BLUE, BOX_RED] * 2,
            'SIGLEC5', ['Younger than 75 years', 'Older than 75 years'], ['0.84', '0.89'], ['****', '****'], -7, core=b_core)
slope_panel(434.5, c_red, c_blue, c_red_line, c_blue_line, c_boxes, [BOX_BLUE, BOX_RED] * 2,
            'SOD1', ['Younger than 75 years', 'Older than 75 years'], ['0.54', '0.69'], ['**', '****'], -3, core=c_core)
slope_panel(697.6, e_red, e_blue, e_red_line, e_blue_line, e_boxes, [BOX_RED, BOX_BLUE] * 2,
            'SPINT3', ['Male', 'Female'], ['0.91', '0.68'], ['****', '****'], -5, red_core=e_red_core, blue_core=e_blue_core)
slope_panel(960.4, f_red, f_blue, f_red_line, f_blue_line, f_boxes, [BOX_RED, BOX_BLUE] * 2,
            'SPP1', ['Male', 'Female'], ['0.66', '0.58'], ['ns', 'ns'], -3, core=f_core)

# page level text
for x, y, s in [(26, 28, 'A'), (524, 28, 'D'), (28.5, 762, 'B'), (303, 762, 'C'), (560.6, 762, 'E'), (826, 762, 'F')]:
    page.text(x, y, s, fontweight='bold', fontsize=8, ha='center', va='center')
page.text(276, 23, 'Age-Modified Temporal Stability E\u25a1ects', fontweight='bold', fontsize=9, ha='center', va='center')
page.text(773, 23, 'Sex-Modified Temporal Stability E\u25a1ects', fontweight='bold', fontsize=9, ha='center', va='center')
page.text(29, 380, '-log10(FDR)', color='#222222', fontsize=7.7, rotation=90, ha='center', va='center')
page.text(556, 380, '-log10(FDR)', color='#222222', fontsize=7.7, rotation=90, ha='center', va='center')
page.text(285, 733, 'Estimate', color='#222222', fontsize=7.7, ha='center', va='center')
page.text(815, 733, 'Estimate', color='#222222', fontsize=7.7, ha='center', va='center')

# legend
page.text(925, 281, 'Proteins with FDR < 0.05', fontweight='bold', fontsize=7.6, va='center')
page.text(925, 292, 'in AGES:', fontweight='bold', fontsize=7.6, va='center')
key_y = [306, 317, 332, 341, 363, 383, 392]
key_c = [NAVY, RED, BLUE, '#F08A7E', GREY, SALMON, BLUE]
key_e = ['#222222', '#222222', '#444444', '#444444', '#444444', 'none', 'none']
key_a = [1, 1, 1, .9, 1, .6, .6]
for y, c, e, a in zip(key_y, key_c, key_e, key_a):
    page.scatter([929], [y], s=30, c=c, edgecolors=e, linewidths=.9, alpha=a)
for y, s in [(306, 'P < 0.05 in CHS &'), (317, 'directionally consistent'), (332, 'P > 0.05 in CHS &'),
             (342, 'directionally consistent'), (358, 'P > 0.05 in CHS & not'), (368, 'directionally consistent'),
             (386, 'Not measured in CHS')]:
    page.text(935.5, y, s, color='#333333', fontsize=7.3, va='center')

fig.savefig('out.png', dpi=100, facecolor='white')
